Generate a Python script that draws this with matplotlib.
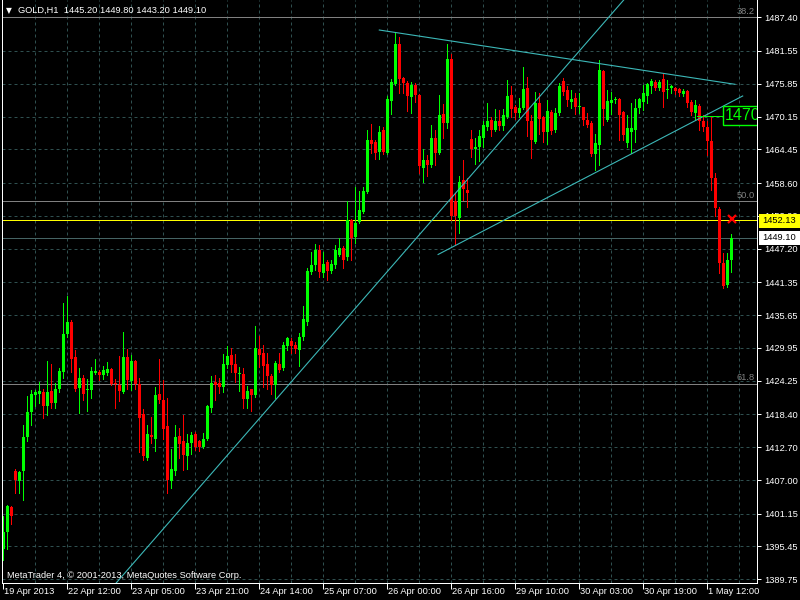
import matplotlib
matplotlib.use("Agg")
import matplotlib.pyplot as plt
from matplotlib.patches import Rectangle
from matplotlib.transforms import blended_transform_factory

plt.rcParams['font.family'] = ['Liberation Sans', 'DejaVu Sans']

# ---- OHLC data (GOLD, H1) ----
opens = [1395.1, 1398.0, 1402.3, 1408.6, 1406.8, 1408.6, 1414.5, 1418.9, 1421.8, 1421.9,
         1422.3, 1419.9, 1422.5, 1420.4, 1422.8, 1425.8, 1432.4, 1434.5, 1428.4, 1423.0,
         1424.8, 1422.6, 1422.6, 1425.6, 1425.8, 1425.2, 1425.6, 1426.3, 1423.8, 1423.5,
         1422.3, 1428.4, 1424.2, 1427.7, 1423.6, 1418.5, 1410.9, 1414.8, 1414.2, 1421.9,
         1420.9, 1416.3, 1406.9, 1408.6, 1414.6, 1413.7, 1411.2, 1413.4, 1415.0, 1413.7,
         1412.8, 1414.2, 1419.6, 1424.1, 1423.8, 1423.1, 1427.0, 1428.7, 1427.1, 1425.5,
         1425.4, 1421.1, 1422.8, 1421.8, 1429.7, 1429.1, 1427.2, 1425.1, 1423.5, 1427.2,
         1426.4, 1430.3, 1431.2, 1430.5, 1429.6, 1431.8, 1434.5, 1443.2, 1444.4, 1447.0,
         1443.0, 1444.8, 1443.4, 1444.4, 1446.1, 1447.3, 1445.7, 1452.2, 1449.2, 1451.9,
         1453.6, 1457.1, 1466.0, 1465.8, 1464.0, 1467.8, 1463.9, 1472.9, 1475.8, 1482.8,
         1476.8, 1475.9, 1473.6, 1475.6, 1473.9, 1461.3, 1462.6, 1461.7, 1466.5, 1463.9,
         1470.6, 1469.1, 1480.1, 1455.4, 1452.6, 1459.1, 1457.4, 1466.2, 1464.5, 1464.9,
         1466.5, 1468.4, 1469.6, 1467.9, 1469.4, 1468.5, 1470.1, 1473.9, 1471.8, 1470.7,
         1471.6, 1475.1, 1469.3, 1465.8, 1472.5, 1470.0, 1467.5, 1471.0, 1467.8, 1470.7,
         1476.4, 1474.7, 1472.7, 1473.3, 1471.8, 1471.8, 1469.6, 1469.0, 1463.7, 1465.2,
         1478.1, 1469.6, 1472.5, 1473.0, 1473.2, 1471.0, 1465.6, 1467.5, 1467.8, 1471.6,
         1472.7, 1473.7, 1475.5, 1476.1, 1475.1, 1476.6, 1474.7, 1475.1, 1475.1, 1474.9,
         1474.1, 1474.6, 1472.7, 1470.8, 1472.0, 1469.4, 1468.4, 1465.9, 1459.5, 1454.1,
         1444.7, 1440.9, 1445.2]
highs = [1400.8, 1402.7, 1402.5, 1409.0, 1408.6, 1416.6, 1421.6, 1422.6, 1422.6, 1424.0,
         1422.9, 1427.7, 1427.2, 1423.8, 1426.4, 1437.8, 1439.0, 1434.8, 1429.6, 1426.5,
         1425.2, 1424.5, 1426.6, 1428.0, 1426.1, 1426.8, 1427.5, 1426.5, 1424.5, 1428.5,
         1432.8, 1429.7, 1428.7, 1427.9, 1424.8, 1419.3, 1416.6, 1417.9, 1423.1, 1428.0,
         1424.4, 1421.3, 1412.4, 1416.6, 1416.0, 1418.3, 1415.0, 1415.4, 1415.4, 1414.0,
         1415.1, 1420.0, 1425.1, 1425.2, 1424.7, 1428.9, 1430.2, 1429.9, 1428.9, 1426.7,
         1426.4, 1423.3, 1422.9, 1433.8, 1432.0, 1430.5, 1429.0, 1425.4, 1427.6, 1429.0,
         1430.9, 1431.9, 1431.6, 1430.9, 1432.6, 1437.2, 1443.8, 1446.7, 1448.0, 1447.8,
         1446.7, 1445.2, 1445.3, 1447.8, 1449.0, 1447.6, 1455.4, 1452.3, 1458.0, 1457.3,
         1458.0, 1467.9, 1468.9, 1466.0, 1468.5, 1468.3, 1473.7, 1476.6, 1484.9, 1483.9,
         1477.0, 1476.4, 1476.2, 1476.0, 1474.1, 1464.6, 1463.5, 1468.7, 1467.9, 1473.9,
         1472.3, 1482.8, 1481.1, 1456.8, 1459.8, 1462.6, 1459.4, 1467.8, 1466.4, 1467.8,
         1469.4, 1472.5, 1470.1, 1471.4, 1471.3, 1471.4, 1476.5, 1475.4, 1472.2, 1473.3,
         1478.7, 1477.1, 1470.4, 1474.5, 1474.2, 1470.3, 1473.0, 1471.3, 1471.6, 1476.0,
         1476.8, 1475.5, 1474.8, 1474.2, 1474.2, 1471.9, 1470.7, 1469.3, 1467.2, 1480.0,
         1478.3, 1474.8, 1474.5, 1473.5, 1473.3, 1471.2, 1470.4, 1472.5, 1473.2, 1473.3,
         1475.6, 1475.9, 1476.6, 1476.5, 1476.5, 1477.7, 1476.5, 1475.6, 1475.3, 1475.2,
         1474.9, 1474.8, 1473.0, 1473.0, 1472.3, 1470.4, 1469.3, 1470.1, 1460.4, 1454.5,
         1446.5, 1446.5, 1449.8]
lows = [1393.1, 1395.1, 1399.4, 1404.8, 1404.8, 1403.5, 1413.7, 1416.6, 1419.9, 1420.3,
        1417.8, 1418.3, 1419.6, 1419.6, 1422.3, 1424.7, 1431.9, 1425.8, 1422.5, 1418.6,
        1420.9, 1419.0, 1421.2, 1425.5, 1424.4, 1424.5, 1425.2, 1423.5, 1419.6, 1420.8,
        1422.2, 1422.9, 1422.6, 1422.8, 1411.9, 1410.4, 1410.4, 1413.5, 1412.1, 1420.4,
        1414.2, 1404.7, 1405.6, 1407.8, 1410.9, 1408.7, 1409.0, 1411.6, 1412.2, 1412.1,
        1412.5, 1414.0, 1418.9, 1420.9, 1422.2, 1422.3, 1426.4, 1425.8, 1424.1, 1422.5,
        1419.5, 1419.6, 1419.0, 1421.5, 1426.7, 1423.2, 1422.8, 1422.0, 1421.2, 1425.8,
        1426.2, 1429.6, 1429.0, 1429.0, 1426.8, 1431.4, 1433.9, 1442.8, 1443.5, 1442.2,
        1442.3, 1441.8, 1442.9, 1443.8, 1446.0, 1443.8, 1445.3, 1445.3, 1448.2, 1451.6,
        1453.4, 1456.9, 1463.8, 1462.7, 1462.7, 1463.6, 1463.6, 1470.6, 1475.6, 1474.2,
        1474.2, 1471.2, 1470.8, 1472.7, 1460.4, 1458.8, 1459.8, 1461.4, 1461.7, 1463.6,
        1466.5, 1468.1, 1452.2, 1448.0, 1449.9, 1455.7, 1454.5, 1463.2, 1461.9, 1462.5,
        1464.8, 1467.8, 1466.8, 1467.7, 1467.9, 1467.8, 1469.9, 1470.0, 1469.7, 1470.1,
        1471.4, 1466.8, 1462.9, 1465.5, 1467.2, 1465.8, 1465.4, 1467.2, 1467.5, 1470.4,
        1473.9, 1472.0, 1471.6, 1470.6, 1470.7, 1468.7, 1468.3, 1463.3, 1460.8, 1461.7,
        1468.7, 1469.3, 1470.6, 1472.5, 1466.1, 1466.1, 1464.8, 1463.9, 1465.8, 1470.7,
        1471.3, 1472.5, 1474.2, 1474.8, 1474.8, 1471.9, 1473.3, 1474.2, 1474.1, 1473.8,
        1473.7, 1471.9, 1470.4, 1469.6, 1467.8, 1467.7, 1463.5, 1457.4, 1452.9, 1442.9,
        1440.3, 1440.5, 1443.2]
closes = [1398.0, 1402.5, 1400.8, 1407.0, 1408.4, 1414.5, 1418.9, 1421.9, 1422.3, 1422.5,
          1419.9, 1422.3, 1420.3, 1422.8, 1426.0, 1432.4, 1434.5, 1428.0, 1422.8, 1424.8,
          1422.0, 1422.7, 1426.0, 1426.0, 1425.2, 1426.1, 1426.3, 1423.7, 1423.7, 1422.5,
          1428.4, 1424.4, 1427.7, 1423.6, 1417.8, 1411.1, 1415.0, 1414.4, 1421.8, 1420.9,
          1415.9, 1407.0, 1408.9, 1414.4, 1413.3, 1411.4, 1413.4, 1414.8, 1412.7, 1412.7,
          1414.1, 1419.8, 1423.8, 1423.5, 1423.1, 1427.2, 1428.5, 1427.0, 1425.6, 1425.6,
          1421.1, 1422.5, 1421.8, 1429.9, 1428.7, 1426.8, 1425.0, 1423.5, 1427.3, 1426.2,
          1430.5, 1431.6, 1430.3, 1429.7, 1431.8, 1434.9, 1443.4, 1444.4, 1447.0, 1443.2,
          1444.5, 1443.4, 1444.5, 1446.9, 1447.4, 1445.3, 1452.2, 1449.0, 1451.6, 1453.9,
          1457.3, 1466.0, 1465.4, 1463.9, 1467.5, 1464.0, 1473.2, 1476.1, 1482.8, 1476.7,
          1475.9, 1473.8, 1475.6, 1473.9, 1461.5, 1462.6, 1461.7, 1466.5, 1463.8, 1470.4,
          1469.1, 1480.1, 1452.8, 1452.8, 1458.8, 1457.5, 1456.8, 1464.6, 1464.9, 1466.7,
          1468.7, 1469.4, 1467.9, 1469.3, 1468.5, 1470.4, 1473.7, 1471.4, 1470.7, 1471.6,
          1474.9, 1469.3, 1466.0, 1472.5, 1469.7, 1467.4, 1471.1, 1467.7, 1470.8, 1475.4,
          1474.5, 1473.0, 1473.2, 1471.9, 1472.0, 1469.6, 1468.7, 1463.7, 1465.5, 1478.3,
          1471.4, 1472.9, 1473.1, 1473.2, 1470.4, 1467.0, 1468.1, 1468.2, 1471.6, 1473.2,
          1474.2, 1475.8, 1476.3, 1475.1, 1476.2, 1474.5, 1474.9, 1475.4, 1474.6, 1474.3,
          1474.6, 1472.5, 1470.9, 1472.2, 1469.3, 1468.4, 1465.9, 1459.5, 1454.3, 1444.7,
          1440.7, 1445.2, 1449.1]

x_tick_labels = ["19 Apr 2013", "22 Apr 12:00", "23 Apr 05:00", "23 Apr 21:00",
                 "24 Apr 14:00", "25 Apr 07:00", "26 Apr 00:00", "26 Apr 16:00",
                 "29 Apr 10:00", "30 Apr 03:00", "30 Apr 19:00", "1 May 12:00"]
y_tick_values = [1487.40, 1481.55, 1475.85, 1470.15, 1464.45, 1458.60, 1452.90,
                 1447.20, 1441.35, 1435.65, 1429.95, 1424.25, 1418.40, 1412.70,
                 1407.00, 1401.15, 1395.45, 1389.75]

fib_levels = [1487.37, 1455.40, 1423.77]
fib_names = ["38.2", "50.0", "61.8"]
alert_price = 1452.13
bid_price = 1449.10
header = "GOLD,H1  1445.20 1449.80 1443.20 1449.10"

# trend lines (bar index, price)
trend_up = [(20.0, 1382.55), (170.0, 1502.3)]
trend_top = [(94.0, 1485.19), (182.9, 1475.76)]
trend_low = [(108.7, 1446.19), (184.85, 1473.73)]
level_1470 = 1470.3

BG = 'black'
GRID = '#2F4F4F'
UP = '#00FF00'
DN = '#FF0000'
TL = '#3CB8B8'
PX = 0.72  # one pixel in points

fig = plt.figure(figsize=(8, 6), dpi=100, facecolor=BG)
ax = fig.add_axes([2 / 800, 17 / 600, 755 / 800, 583 / 600])
ax.set_facecolor(BG)
ax.set_xlim(-0.325, 188.425)
ax.set_ylim(1389.107, 1490.406)

# grid
for v in y_tick_values:
    ax.axhline(v, color=GRID, lw=PX, ls=(0, (3, 3)), zorder=0.5)
for k in range(1, 24):
    ax.axvline(8 * k, color=GRID, lw=PX, ls=(0, (3, 3)), zorder=0.5)

# fibonacci levels
for v, name in zip(fib_levels, fib_names):
    ax.axhline(v, color='#808080', lw=PX, zorder=1)
    ax.text(187.9, v + 0.3, name, color='#808080', fontsize=6.7,
            ha='right', va='bottom', zorder=1)

ax.axhline(alert_price, color='#FFFF00', lw=PX, zorder=1.2)
ax.axhline(bid_price, color='#466464', lw=PX, zorder=1.1)

# candles
n = len(opens)
for i in range(n):
    o, h, l, c = opens[i], highs[i], lows[i], closes[i]
    col = UP if c >= o else DN
    ax.vlines(i, l, h, color=col, lw=PX, zorder=2, antialiased=False)
    bottom = min(o, c)
    height = max(abs(c - o), 0.17)
    ax.bar(i, height, bottom=bottom, width=0.75, color=col, linewidth=0,
           zorder=2.1, antialiased=False)

# trend lines
for seg in (trend_up, trend_top, trend_low):
    ax.plot([seg[0][0], seg[1][0]], [seg[0][1], seg[1][1]], color=TL, lw=0.8, zorder=3)

# alert label 1470
ax.plot([173.4, 179.85], [level_1470, level_1470], color=UP, lw=PX, zorder=4)
ax.add_patch(Rectangle((179.85, 1468.69), 12, 3.3, facecolor=BG, edgecolor=UP,
                       lw=1.0, zorder=4))
ax.text(180.4, 1470.3, "1470", color=UP, fontsize=11.5, ha='left', va='center',
        zorder=5, clip_on=True)

ax.plot([182.1], [1452.3], marker='x', color=DN, ms=6, mew=1.6, zorder=5)

# spines
for s in ('left', 'right', 'bottom'):
    ax.spines[s].set_color('white')
    ax.spines[s].set_linewidth(PX)
ax.spines['top'].set_visible(False)

ax.yaxis.tick_right()
ax.set_yticks(y_tick_values)
ax.set_yticklabels([f"{v:.2f}" for v in y_tick_values])
ax.tick_params(axis='y', colors='white', labelsize=6.7, length=3, width=PX, pad=2)
ax.set_xticks([16 * k for k in range(len(x_tick_labels))])
ax.set_xticklabels([''] * len(x_tick_labels))
ax.tick_params(axis='x', colors='white', length=4, width=PX)

trans = blended_transform_factory(ax.transData, ax.transAxes)
for k, lab in enumerate(x_tick_labels):
    ax.text(16 * k + 0.1, -0.0154, lab, transform=trans, color='white', fontsize=6.7,
            ha='left', va='center', clip_on=False)

# header and copyright
fig.text(6 / 800, 1 - 10.5 / 600, "\u25BC", color='white', fontsize=5.5,
         va='center', ha='left', family='DejaVu Sans')
fig.text(18 / 800, 1 - 10.5 / 600, header, color='white', fontsize=6.7,
         va='center', ha='left')
fig.text(7 / 800, 1 - 575 / 600, "MetaTrader 4, \u00A9 2001-2013, MetaQuotes Software Corp.",
         color='white', fontsize=6.7, va='center', ha='left')

# right-axis price boxes
fig.add_artist(Rectangle((759 / 800, 1 - 227.5 / 600), 41 / 800, 13.5 / 600,
                         transform=fig.transFigure, facecolor='#FFFF00', edgecolor='none'))
fig.text(762 / 800, 1 - 220.5 / 600, f"{alert_price:.2f}", color='black', fontsize=6.7,
         va='center', ha='left')
fig.add_artist(Rectangle((759 / 800, 1 - 244.5 / 600), 41 / 800, 13.5 / 600,
                         transform=fig.transFigure, facecolor='white', edgecolor='none'))
fig.text(762 / 800, 1 - 237.7 / 600, f"{bid_price:.2f}", color='black', fontsize=6.7,
         va='center', ha='left')

fig.savefig("out.png", dpi=100, facecolor=BG)
